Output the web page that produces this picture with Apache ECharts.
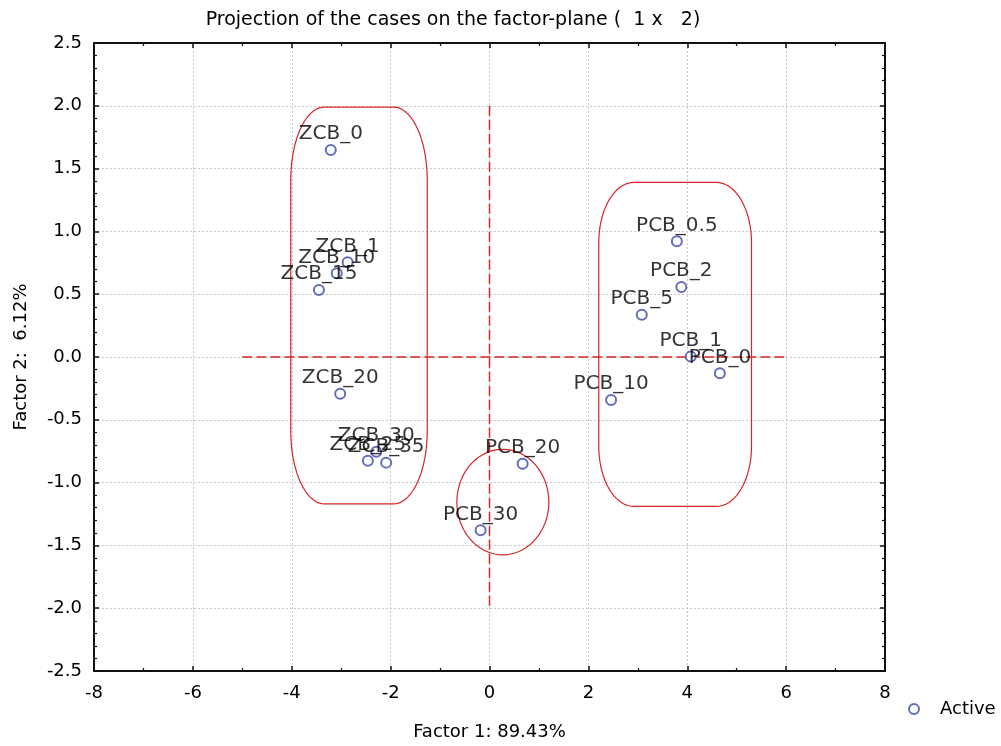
<!DOCTYPE html>
<html>
<head>
<meta charset="utf-8">
<script src="https://cdn.jsdelivr.net/npm/echarts@6/dist/echarts.min.js"></script>
<style>
  html, body { margin: 0; padding: 0; background: #fff; }
  #chart { width: 1001px; height: 746px; }
</style>
</head>
<body>
<div id="chart"></div>
<script>
// case names and their coordinates on factor 1 / factor 2
const caseNames = ['ZCB_0', 'ZCB_1', 'ZCB_10', 'ZCB_15', 'ZCB_20', 'ZCB_30', 'ZCB_25', 'ZCB_35',
  'PCB_0.5', 'PCB_2', 'PCB_5', 'PCB_1', 'PCB_0', 'PCB_10', 'PCB_20', 'PCB_30'];
const factor1 = [-3.21, -2.87, -3.09, -3.45, -3.02, -2.29, -2.46, -2.09,
  3.79, 3.88, 3.08, 4.07, 4.66, 2.46, 0.67, -0.18];
const factor2 = [1.648, 0.754, 0.666, 0.533, -0.292, -0.754, -0.826, -0.841,
  0.921, 0.557, 0.337, 0.003, -0.130, -0.342, -0.849, -1.38];

// red dashed reference axes
const hLine = [[-5, 0], [6, 0]];
const vLine = [[0, 2], [0, -2]];

// cluster outlines: [xMin, xMax, yMin, yMax, cornerRx, cornerRy]
const clusterBoxes = [
  [-4.02, -1.26, -1.17, 1.99, 0.68, 0.58],
  [2.21, 5.30, -1.19, 1.39, 0.71, 0.48]
];
// [centerX, centerY, radiusX, radiusY]
const clusterEllipse = [[0.27, -1.155, 0.93, 0.42]];

const xTicks = { min: -8, max: 8, interval: 2 };
const yTicks = { min: -2.5, max: 2.5, interval: 0.5 };

const FONT = 'DejaVu Sans, Liberation Sans, sans-serif';
const RED = '#d82424';

const points = caseNames.map((n, i) => ({ name: n, value: [factor1[i], factor2[i]] }));

function boxItem(params, api) {
  const p0 = api.coord([api.value(0), api.value(3)]); // top-left
  const p1 = api.coord([api.value(1), api.value(2)]); // bottom-right
  const rs = api.size([api.value(4), api.value(5)]);
  const rx = rs[0], ry = rs[1];
  const pts = [];
  const corners = [
    [p1[0] - rx, p0[1] + ry, -90, 0],
    [p1[0] - rx, p1[1] - ry, 0, 90],
    [p0[0] + rx, p1[1] - ry, 90, 180],
    [p0[0] + rx, p0[1] + ry, 180, 270]
  ];
  corners.forEach(c => {
    for (let a = c[2]; a <= c[3]; a += 5) {
      const t = a * Math.PI / 180;
      pts.push([c[0] + rx * Math.cos(t), c[1] + ry * Math.sin(t)]);
    }
  });
  return {
    type: 'polygon',
    shape: { points: pts },
    style: { fill: 'none', stroke: RED, lineWidth: 1.2 }
  };
}

function ellipseItem(params, api) {
  const c = api.coord([api.value(0), api.value(1)]);
  const r = api.size([api.value(2), api.value(3)]);
  const pts = [];
  for (let a = 0; a < 360; a += 4) {
    const t = a * Math.PI / 180;
    pts.push([c[0] + r[0] * Math.cos(t), c[1] + r[1] * Math.sin(t)]);
  }
  return {
    type: 'polygon',
    shape: { points: pts },
    style: { fill: 'none', stroke: RED, lineWidth: 1.2 }
  };
}

const axisCommon = {
  axisLine: { show: true, onZero: false, lineStyle: { color: '#111', width: 2 } },
  axisTick: { show: true, inside: true, length: 5, lineStyle: { color: '#111', width: 1.5 } },
  minorTick: { show: true, length: 3, lineStyle: { color: '#111', width: 1.2 } }
};

const chart = echarts.init(document.getElementById('chart'), null, { renderer: 'canvas' });

chart.setOption({
  animation: false,
  backgroundColor: '#fff',
  title: {
    text: 'Projection of the cases on the factor-plane (  1 x   2)',
    left: 448, top: 6, textAlign: 'center',
    textStyle: { fontFamily: FONT, fontSize: 19, fontWeight: 'normal', color: '#000' }
  },
  legend: {
    data: ['Active'],
    left: 903, top: 695,
    itemWidth: 10, itemHeight: 10, itemGap: 8,
    textStyle: { fontFamily: FONT, fontSize: 18, color: '#000', padding: [0, 0, 0, 16] }
  },
  grid: { left: 94, right: 116, top: 43, bottom: 75 },
  xAxis: [
    Object.assign({
      type: 'value', position: 'bottom',
      min: xTicks.min, max: xTicks.max, interval: xTicks.interval,
      name: 'Factor 1: 89.43%', nameLocation: 'middle', nameGap: 52,
      nameTextStyle: { fontFamily: FONT, fontSize: 18, color: '#000' },
      axisLabel: { margin: 13, fontFamily: FONT, fontSize: 18, color: '#000' },
      splitLine: { show: true, lineStyle: { color: '#c8c8c8', type: [2, 2], width: 1 } }
    }, axisCommon, { minorTick: Object.assign({ splitNumber: 2 }, axisCommon.minorTick) }),
    Object.assign({
      type: 'value', position: 'top',
      min: xTicks.min, max: xTicks.max, interval: xTicks.interval,
      axisLabel: { show: false }, splitLine: { show: false }
    }, axisCommon, { minorTick: Object.assign({ splitNumber: 2 }, axisCommon.minorTick) })
  ],
  yAxis: [
    Object.assign({
      type: 'value', position: 'left',
      min: yTicks.min, max: yTicks.max, interval: yTicks.interval,
      name: 'Factor 2:  6.12%', nameLocation: 'middle', nameGap: 64,
      nameTextStyle: { fontFamily: FONT, fontSize: 18, color: '#000' },
      axisLabel: { margin: 12, fontFamily: FONT, fontSize: 18, color: '#000',
        formatter: v => v.toFixed(1) },
      splitLine: { show: true, lineStyle: { color: '#c8c8c8', type: [2, 2], width: 1 } }
    }, axisCommon, { minorTick: Object.assign({ splitNumber: 5 }, axisCommon.minorTick) }),
    Object.assign({
      type: 'value', position: 'right',
      min: yTicks.min, max: yTicks.max, interval: yTicks.interval,
      axisLabel: { show: false }, splitLine: { show: false }
    }, axisCommon, { minorTick: Object.assign({ splitNumber: 5 }, axisCommon.minorTick) })
  ],
  series: [
    {
      type: 'line', name: 'hline', data: hLine, symbol: 'none', silent: true,
      lineStyle: { color: RED, width: 1.5, type: [10, 4] }, z: 1
    },
    {
      type: 'line', name: 'vline', data: vLine, symbol: 'none', silent: true,
      lineStyle: { color: RED, width: 1.5, type: [10, 4] }, z: 1
    },
    {
      type: 'custom', name: 'boxes', renderItem: boxItem, data: clusterBoxes,
      encode: { x: [0, 1], y: [2, 3] }, silent: true, z: 1
    },
    {
      type: 'custom', name: 'ellipse', renderItem: ellipseItem, data: clusterEllipse,
      encode: { x: 0, y: 1 }, silent: true, z: 1
    },
    {
      type: 'scatter', name: 'Active', data: points,
      symbol: 'emptyCircle', symbolSize: 10,
      itemStyle: { color: '#3b4aa8', borderWidth: 1.1 },
      label: {
        show: true, position: 'top', distance: 0,
        formatter: p => p.name,
        fontFamily: FONT, fontSize: 20, color: '#000'
      },
      z: 3
    }
  ]
});
</script>
</body>
</html>
